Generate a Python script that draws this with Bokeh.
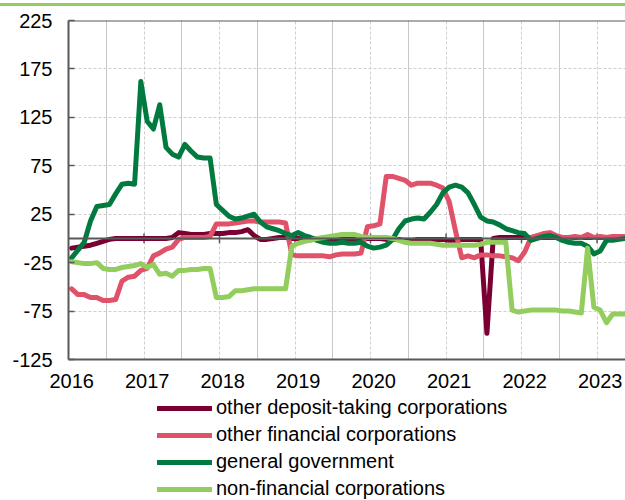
import pandas as pd
from bokeh.plotting import figure
from bokeh.layouts import column
from bokeh.models import (Span, FixedTicker, Grid, Legend, LegendItem, Range1d,
                          CustomJSTickFormatter, Div)
from bokeh.embed import file_html
from bokeh.resources import INLINE

# ---------------- data (monthly, Jan 2016 - May 2023) ----------------
start_month = "2016-01-01"
n_months = 89

odc = [-10, -9, -8, -7, -5, -3, -1, 0, 0, 0,
       0, 0, 0, 0, 0, 0, 1, 6, 5, 4,
       4, 4, 5, 5, 5, 6, 6, 7, 9, 3,
       -1, -1, 0, 1, 1, 0, 0, -1, 0, 0,
       0, 0, 0, 0, 0, 0, 0, 0, 0, 0,
       -1, -1, -1, -2, -2, -1, -1, -1, -1, -1,
       -2, -2, -1, -1, -1, -1, -98, 0, 1, 1,
       1, 1, 1, 1, 1, 1, 1, 1, 1, 1,
       1, 1, 1, 1, 1, 1, 1, 1, 1]

ofc = [-52, -58, -58, -61, -61, -64, -64, -63, -44, -40,
       -39, -33, -31, -18, -15, -11, -9, -1, 1, 1,
       1, 1, 2, 15, 15, 15, 16, 17, 18, 18,
       17, 17, 17, 17, 16, -17, -18, -18, -18, -18,
       -18, -19, -17, -16, -16, -16, -15, 12, 13, 15,
       64, 64, 62, 60, 55, 57, 57, 57, 55, 52,
       38, 8, -20, -18, -20, -17, -17, -18, -18, -19,
       -20, -23, -14, 1, 3, 5, 6, 3, 1, 1,
       2, 1, 4, 1, 2, 1, 2, 2, 2]

gg = [-20, -12, -4, 18, 33, 34, 35, 46, 56, 57,
      56, 162, 121, 113, 138, 94, 87, 84, 97, 90,
      84, 83, 83, 35, 29, 23, 20, 21, 23, 25,
      17, 12, 10, 8, 5, 3, 6, 3, 1, -2,
      -4, -5, -5, -4, -5, -5, -4, -8, -10, -9,
      -7, -1, 10, 18, 20, 21, 20, 27, 35, 47,
      53, 55, 53, 47, 35, 22, 18, 17, 14, 10,
      8, 6, 5, -2, 0, 2, 3, 1, -2, -4,
      -5, -5, -8, -16, -13, -2, -2, -1, 0]

nfc = [-24, -25, -26, -26, -25, -31, -32, -32, -30, -29,
       -28, -26, -30, -27, -37, -36, -39, -33, -33, -32,
       -32, -31, -31, -61, -61, -60, -54, -54, -53, -52,
       -52, -52, -52, -52, -52, -8, -5, -3, -2, 0,
       1, 2, 3, 4, 4, 4, 2, 1, 1, 1,
       1, 0, -2, -4, -5, -5, -5, -5, -6, -7,
       -7, -7, -7, -7, -7, -6, -4, -4, -4, -4,
       -74, -76, -75, -74, -74, -74, -74, -74, -75, -75,
       -76, -77, -10, -71, -74, -87, -78, -78, -78]

series_names = ["other deposit-taking corporations", "other financial corporations",
                "general government", "non-financial corporations"]
series_values = [odc, ofc, gg, nfc]
series_colors = ["#7A0033", "#E0516A", "#007A3E", "#92CD5E"]

years = [2016, 2017, 2018, 2019, 2020, 2021, 2022, 2023]
y_ticks = [-125, -75, -25, 25, 75, 125, 175, 225]

months = pd.date_range(start_month, periods=n_months, freq="MS")
x = list(months.year + (months.month - 0.5) / 12.0)

AXIS = "#595959"
FONT = "Liberation Sans"

# ---------------- main chart ----------------
p = figure(width=625, height=390, output_backend="svg", toolbar_location=None,
           x_range=Range1d(2016, 2023.377), y_range=Range1d(-125, 225),
           min_border_left=68, min_border_right=0, min_border_top=14,
           min_border_bottom=37)
p.outline_line_color = None
p.background_fill_color = "white"
p.border_fill_color = "white"

# grids
p.ygrid.ticker = FixedTicker(ticks=y_ticks[1:-1])
p.ygrid.grid_line_color = "#CFCFCF"
p.ygrid.grid_line_dash = "3 2"
p.ygrid.grid_line_width = 1
p.xgrid.ticker = FixedTicker(ticks=years[1:])
p.xgrid.grid_line_color = "#CFCFCF"
p.xgrid.grid_line_dash = "3 2"
p.xgrid.grid_line_width = 1
mid = Grid(dimension=0, ticker=FixedTicker(ticks=[yr + 0.5 for yr in years[:-1]]),
           grid_line_color="#C8C8C8", grid_line_width=1)
p.add_layout(mid, "center")

# axes
p.yaxis.ticker = FixedTicker(ticks=y_ticks)
p.yaxis.formatter = CustomJSTickFormatter(code="return tick.toFixed(0);")
p.yaxis.axis_line_color = AXIS
p.yaxis.axis_line_width = 2
p.yaxis.major_tick_in = 6
p.yaxis.major_tick_out = 0
p.yaxis.major_tick_line_color = AXIS
p.yaxis.major_tick_line_width = 1.5
p.yaxis.minor_tick_line_color = None
p.yaxis.major_label_standoff = 16
p.yaxis.major_label_text_font = FONT
p.yaxis.major_label_text_font_size = "20px"
p.yaxis.major_label_text_color = "black"

p.xaxis.ticker = FixedTicker(ticks=[yr + 1.0 / 24 for yr in years])
p.xaxis.formatter = CustomJSTickFormatter(code="return Math.floor(tick).toString();")
p.xaxis.axis_line_color = AXIS
p.xaxis.axis_line_width = 2
p.xaxis.major_tick_line_color = None
p.xaxis.minor_tick_line_color = None
p.xaxis.major_tick_in = 0
p.xaxis.major_tick_out = 0
p.xaxis.major_label_standoff = 14
p.xaxis.major_label_text_font = FONT
p.xaxis.major_label_text_font_size = "20px"
p.xaxis.major_label_text_color = "black"

# top border and zero line
p.add_layout(Span(location=y_ticks[-1], dimension="width", line_color=AXIS, line_width=2))
p.add_layout(Span(location=0, dimension="width", line_color=AXIS, line_width=2))
p.segment(x0=years[1:], y0=[-5] * 7, x1=years[1:], y1=[5] * 7,
          line_color=AXIS, line_width=1.5)

for vals, col in zip(series_values, series_colors):
    p.line(x, vals, line_color=col, line_width=5, line_join="round", line_cap="round")

# ---------------- legend strip (same series, kept out of view) ----------------
lg = figure(width=625, height=104, output_backend="svg", toolbar_location=None,
            x_range=Range1d(0, 1), y_range=Range1d(0, 1),
            x_axis_type=None, y_axis_type=None,
            min_border_left=0, min_border_right=0, min_border_top=0, min_border_bottom=0)
lg.outline_line_color = None
lg.xgrid.visible = False
lg.ygrid.visible = False
items = []
for name, vals, col in zip(series_names, series_values, series_colors):
    r = lg.line(x, vals, line_color=col, line_width=5, line_cap="round")
    items.append(LegendItem(label=name, renderers=[r]))

legend = Legend(items=items, location=(89, 0), orientation="vertical",
                border_line_color=None, background_fill_alpha=0,
                padding=0, margin=0, spacing=4,
                glyph_width=55, glyph_height=20, label_height=20,
                label_standoff=4, label_text_font=FONT,
                label_text_font_size="20px", label_text_color="black")
lg.add_layout(legend, "center")

top_rule = Div(text="", width=625, height=3, margin=(3, 0, 0, 0),
               styles={"background-color": "#92CD5E"})

layout = column(top_rule, p, lg, spacing=0)

open("out.html", "w").write(file_html(layout, INLINE))
